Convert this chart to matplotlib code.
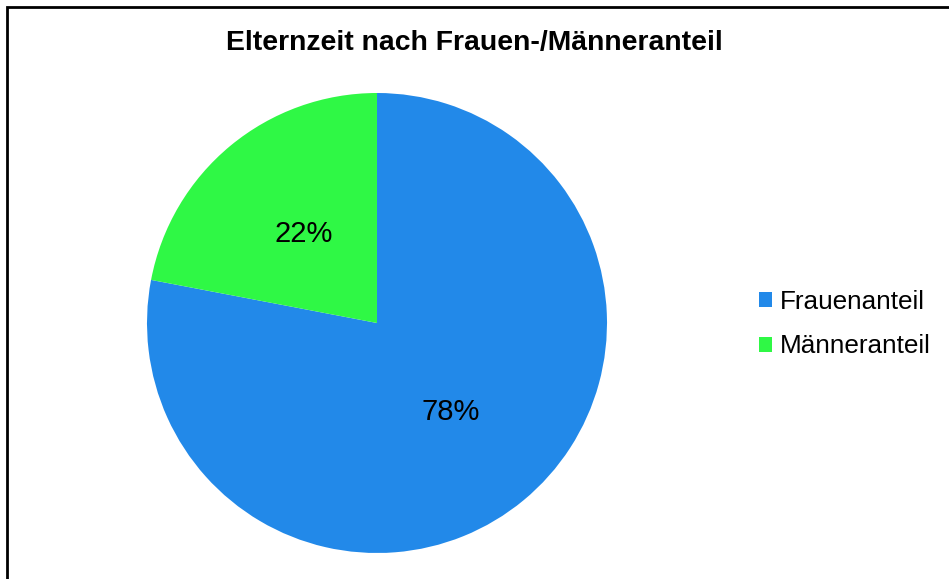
import matplotlib
matplotlib.use("Agg")
import matplotlib.pyplot as plt
from matplotlib.patches import Rectangle, Patch

plt.rcParams['font.family'] = ['Liberation Sans', 'DejaVu Sans']

labels = ["Frauenanteil", "Männeranteil"]
shares = [78, 22]
colors = ["#2289E9", "#2FF845"]
title = "Elternzeit nach Frauen-/Männeranteil"

W, H = 949, 579
fig = plt.figure(figsize=(W / 100, H / 100), dpi=100)

# outer frame, only top and left edges visible
fig.patches.append(Rectangle((7 / W, -0.1), 1.2, (H - 7) / H + 0.1,
                             transform=fig.transFigure, fill=False,
                             edgecolor="black", linewidth=2))

r = 230
cx, cy = 377, 323
ax = fig.add_axes([(cx - r) / W, (H - cy - r) / H, 2 * r / W, 2 * r / H])
wedges, texts, autotexts = ax.pie(shares, colors=colors, startangle=90,
                                  counterclock=False, autopct="%d%%",
                                  pctdistance=0.5, radius=1,
                                  textprops={"fontsize": 21})
ax.set_xlim(-1, 1)
ax.set_ylim(-1, 1)
ax.set_aspect("equal")
ax.axis("off")

fig.text(0.5, 1 - 43 / H, title, ha="center", va="center",
         fontsize=20.4, fontweight="bold")

handles = [Patch(facecolor=c, edgecolor="none") for c in colors]
fig.legend(handles, labels, loc="center left",
           bbox_to_anchor=(759 / W, 1 - 324 / H), frameon=False,
           fontsize=18.8, handlelength=0.5, handleheight=0.5,
           handletextpad=0.3, labelspacing=0.8, borderpad=0,
           borderaxespad=0)

fig.savefig("out.png", dpi=100)
